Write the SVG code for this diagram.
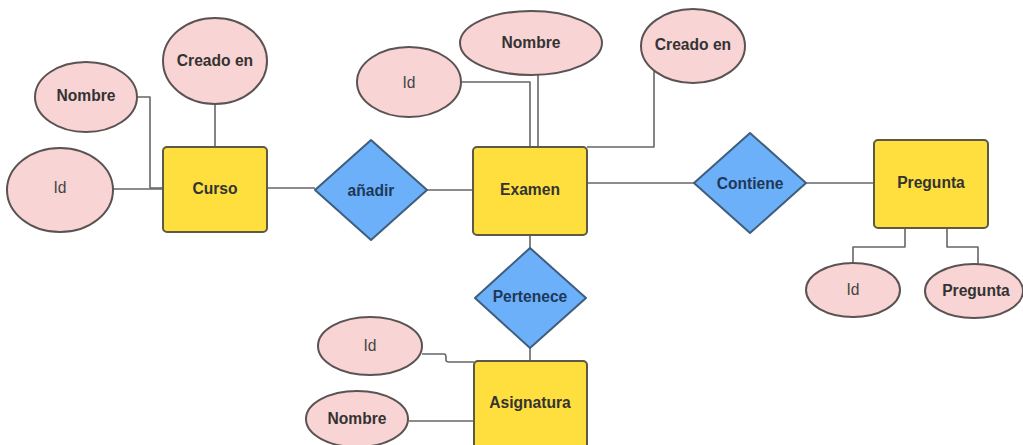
<svg xmlns="http://www.w3.org/2000/svg" width="1023" height="445" viewBox="0 0 1023 445">
<style>
.attr{fill:#f9d4d4;stroke:#5b5353;stroke-width:2}
.ent{fill:#fedf3e;stroke:#5c5a45;stroke-width:2}
.rel{fill:#6cb0fa;stroke:#3f5d7c;stroke-width:2;stroke-linejoin:round}
.conn{fill:none;stroke:#666;stroke-width:1.6;stroke-linejoin:round}
text{font-family:"Liberation Sans",Arial,sans-serif;font-size:15.6px;text-anchor:middle;dominant-baseline:central}
.b{font-weight:bold;fill:#333}
.n{fill:#444}
.rt{font-weight:bold;fill:#1f3858}
</style>
<rect width="1023" height="445" fill="#fff"/>
<g id="connectors">
<path class="conn" d="M137,97 H150 V188 H163"/>
<path class="conn" d="M113,189 H163"/>
<path class="conn" d="M215,104 V147"/>
<path class="conn" d="M267,188 H315"/>
<path class="conn" d="M427,190 H473"/>
<path class="conn" d="M462,82 H530 V147"/>
<path class="conn" d="M538,75 V147"/>
<path class="conn" d="M587,147 H654 V70"/>
<path class="conn" d="M587,183 H694"/>
<path class="conn" d="M806,183 H874"/>
<path class="conn" d="M905,228 V247 H853 V263"/>
<path class="conn" d="M947,228 V247 H978 V265"/>
<path class="conn" d="M530,235 V248"/>
<path class="conn" d="M530,348 V361"/>
<path class="conn" d="M422,354 H444 Q446,354 446,357 V360 Q446,362 449,362 H474"/>
<path class="conn" d="M409,421 H474"/>
</g>
<g id="curso"><rect class="ent" x="163" y="147" width="104" height="85" rx="4"/><text class="b" x="215" y="188">Curso</text></g>
<g id="curso-creado"><ellipse class="attr" cx="215" cy="61" rx="52" ry="43"/><text class="b" x="215" y="60">Creado en</text></g>
<g id="curso-nombre"><ellipse class="attr" cx="86" cy="97" rx="51" ry="35"/><text class="b" x="86" y="95">Nombre</text></g>
<g id="curso-id"><ellipse class="attr" cx="60" cy="190" rx="53" ry="42"/><text class="n" x="60" y="187">Id</text></g>
<g id="anadir"><polygon class="rel" points="371,140 427,190 371,240 315,190"/><text class="rt" x="371" y="190">añadir</text></g>
<g id="examen"><rect class="ent" x="473" y="147" width="114" height="88" rx="4"/><text class="b" x="530" y="189">Examen</text></g>
<g id="examen-id"><ellipse class="attr" cx="409" cy="82" rx="52" ry="35"/><text class="n" x="409" y="82">Id</text></g>
<g id="examen-nombre"><ellipse class="attr" cx="531" cy="43" rx="71" ry="32"/><text class="b" x="531" y="42">Nombre</text></g>
<g id="examen-creado"><ellipse class="attr" cx="693" cy="46" rx="52" ry="37"/><text class="b" x="693" y="44">Creado en</text></g>
<g id="contiene"><polygon class="rel" points="750,133 806,183 750,233 694,183"/><text class="rt" x="750" y="183">Contiene</text></g>
<g id="pregunta"><rect class="ent" x="874" y="140" width="114" height="88" rx="4"/><text class="b" x="931" y="182">Pregunta</text></g>
<g id="pregunta-id"><ellipse class="attr" cx="853" cy="290" rx="47" ry="27"/><text class="n" x="853" y="289">Id</text></g>
<g id="pregunta-pregunta"><ellipse class="attr" cx="974" cy="291" rx="49" ry="27"/><text class="b" x="976" y="290">Pregunta</text></g>
<g id="pertenece"><polygon class="rel" points="530,248 586,298 530,348 475,298"/><text class="rt" x="530" y="296">Pertenece</text></g>
<g id="asignatura"><rect class="ent" x="474" y="361" width="113" height="100" rx="4"/><text class="b" x="530" y="402">Asignatura</text></g>
<g id="asignatura-id"><ellipse class="attr" cx="370" cy="346" rx="52" ry="29"/><text class="n" x="370" y="345">Id</text></g>
<g id="asignatura-nombre"><ellipse class="attr" cx="357" cy="419" rx="51" ry="28"/><text class="b" x="357" y="418">Nombre</text></g>
</svg>
